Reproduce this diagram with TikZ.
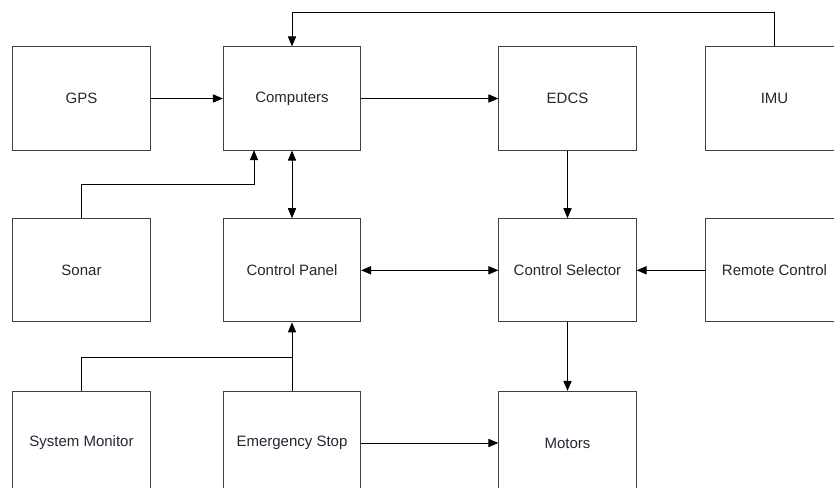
\documentclass[tikz,border=0pt]{standalone}
\usepackage{fontspec}
\setmainfont{Liberation Sans}
\usetikzlibrary{arrows.meta}

\begin{document}
\begin{tikzpicture}[x=0.03cm,y=-0.03cm]
\definecolor{boxline}{rgb}{0.25,0.25,0.25}
\definecolor{labelink}{rgb}{0.15,0.15,0.2}
\tikzstyle{block} = [draw=boxline, line width=0.8pt, minimum width=4.12cm, minimum height=3.1cm, inner sep=0, text=labelink, font=\fontsize{12.8}{15}\selectfont]
\tikzstyle{arr} = [line width=0.8pt, -{Triangle[length=8.5pt,width=7pt]}]
\tikzstyle{dblarr} = [line width=0.8pt, {Triangle[length=8.5pt,width=7pt]}-{Triangle[length=8.5pt,width=7pt]}]

\useasboundingbox (0,0) rectangle (834,488);

% top row
\node[block] (gps) at (81.5,98.5) {GPS};
\node[block] (comp) at (292,98.5) {Computers};
\node[block] (edcs) at (567.5,98.5) {EDCS};
\node[block] (imu) at (774.5,98.5) {IMU};

% middle row
\node[block] (sonar) at (81.5,270.3) {Sonar};
\node[block] (cpanel) at (292,270.3) {Control Panel};
\node[block] (csel) at (567.5,270.3) {Control Selector};
\node[block] (remote) at (774.5,270.3) {Remote Control};

% bottom row
\node[block] (sysmon) at (81.5,443) {System Monitor};
\node[block] (estop) at (292,443) {Emergency Stop};
\node[block] (motors) at (567.5,443) {Motors};

\coordinate (topline) at (292,12);
\coordinate (sonarbend) at (254,184);
\coordinate (sonarin) at (254,150.2);
\coordinate (smbend) at (292,357);

\draw[arr] (imu.north) |- (topline) -- (comp.north);
\draw[arr] (gps) -- (comp);
\draw[arr] (comp) -- (edcs);
\draw[arr] (sonar.north) |- (sonarbend) -- (sonarin);
\draw[dblarr] (comp) -- (cpanel);
\draw[arr] (edcs) -- (csel);
\draw[dblarr] (cpanel) -- (csel);
\draw[arr] (remote) -- (csel);
\draw[arr] (csel) -- (motors);
\draw[line width=0.8pt] (sysmon.north) |- (smbend);
\draw[arr] (estop) -- (cpanel);
\draw[arr] (estop) -- (motors);

\end{tikzpicture}
\end{document}
